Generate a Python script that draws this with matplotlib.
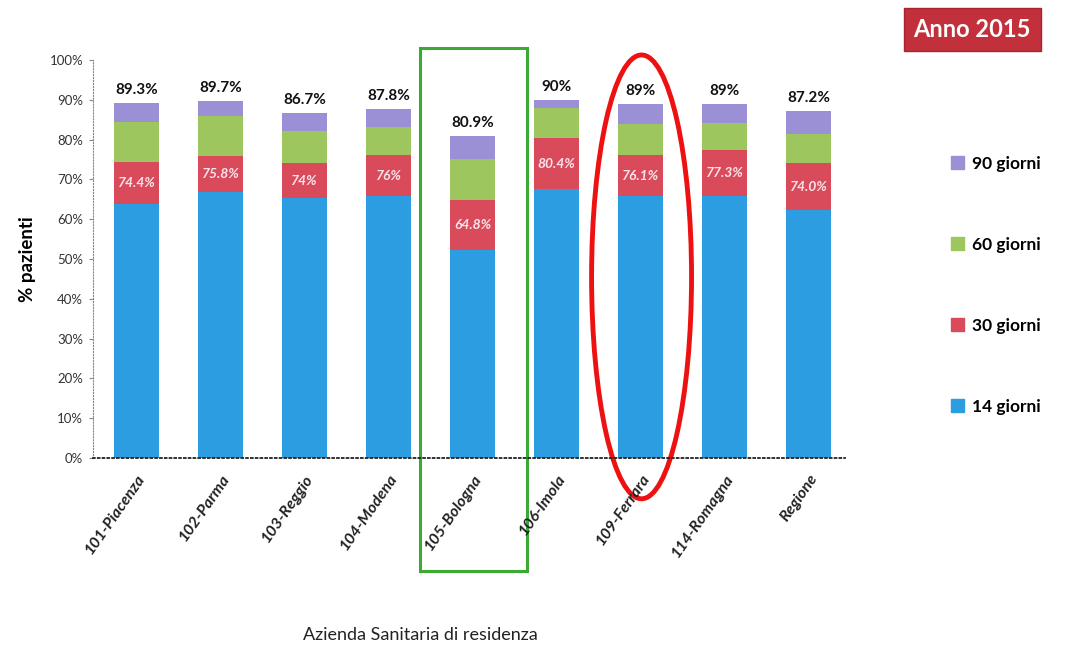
import numpy as np
import matplotlib
matplotlib.use("Agg")
import matplotlib.pyplot as plt
from matplotlib.patches import Rectangle, Ellipse, Patch

plt.rcParams['font.family'] = ['Lato', 'DejaVu Sans']

aziende = ['101-Piacenza', '102-Parma', '103-Reggio', '104-Modena', '105-Bologna',
           '106-Imola', '109-Ferrara', '114-Romagna', 'Regione']

# cumulative share of patients reached by each deadline (%)
g14 = [63.8, 66.7, 65.4, 65.7, 52.3, 67.5, 65.7, 65.7, 62.3]
g30 = [74.4, 75.8, 74.0, 76.0, 64.8, 80.4, 76.1, 77.3, 74.0]
g60 = [84.5, 86.0, 82.1, 83.1, 75.1, 87.9, 83.9, 84.1, 81.3]
g90 = [89.3, 89.7, 86.7, 87.8, 80.9, 90.0, 89.0, 89.0, 87.2]

lab30 = ['74.4%', '75.8%', '74%', '76%', '64.8%', '80.4%', '76.1%', '77.3%', '74.0%']
lab90 = ['89.3%', '89.7%', '86.7%', '87.8%', '80.9%', '90%', '89%', '89%', '87.2%']

c14, c30, c60, c90 = '#2b9de0', '#d94a5b', '#9dc65e', '#9b8fd6'

fig = plt.figure(figsize=(10.65, 6.51), dpi=100)
ax = fig.add_axes([0.0873, 0.2965, 0.706, 0.6114])

x = np.arange(len(aziende))
w = 0.54
a14 = np.array(g14)
a30 = np.array(g30)
a60 = np.array(g60)
a90 = np.array(g90)
ax.bar(x, a14, w, color=c14)
ax.bar(x, a30 - a14, w, bottom=a14, color=c30)
ax.bar(x, a60 - a30, w, bottom=a30, color=c60)
ax.bar(x, a90 - a60, w, bottom=a60, color=c90)

for i in range(len(x)):
    ax.text(x[i], (a14[i] + a30[i]) / 2, lab30[i], ha='center', va='center',
            color='#fbe3ea', fontsize=10, fontweight='bold', fontstyle='italic')
    ax.text(x[i], a90[i] + 1.5, lab90[i], ha='center', va='bottom',
            color='#111111', fontsize=11, fontweight='bold')

ax.set_xlim(-0.52, 8.43)
ax.set_ylim(0, 100)
ax.set_yticks(np.arange(0, 101, 10))
ax.set_yticklabels([f'{v}%' for v in range(0, 101, 10)], fontsize=9.5, color='#333333')
ax.set_xticks(x)
ax.set_xticklabels(aziende, rotation=55, ha='right', rotation_mode='anchor',
                   fontsize=11.5, fontweight='bold', fontstyle='italic', color='#222222')
ax.tick_params(axis='x', length=0, pad=10)
ax.tick_params(axis='y', length=3, color='#888888', pad=4)

for s in ['top', 'right']:
    ax.spines[s].set_visible(False)
ax.spines['left'].set_linestyle(':')
ax.spines['left'].set_color('#888888')
ax.spines['bottom'].set_linestyle(':')
ax.spines['bottom'].set_color('#222222')
ax.spines['bottom'].set_linewidth(1.3)

ax.set_ylabel('% pazienti', fontsize=13.5, fontweight='bold', labelpad=10)
fig.text(0.395, 0.024, 'Azienda Sanitaria di residenza', ha='center', va='center',
         fontsize=13, color='#222222')

# highlight boxes
ax.add_patch(Rectangle((3.37, -28.5), 1.28, 131.5, fill=False,
                       edgecolor='#3aaa35', linewidth=2.2, clip_on=False))
ax.add_patch(Ellipse((6.01, 45.5), 1.19, 111.5, fill=False,
                     edgecolor='#ee1111', linewidth=3.5, clip_on=False))

handles = [Patch(color=c90), Patch(color=c60), Patch(color=c30), Patch(color=c14)]
fig.legend(handles, ['90 giorni', '60 giorni', '30 giorni', '14 giorni'],
           loc='upper left', bbox_to_anchor=(0.878, 0.785), frameon=False,
           prop={'size': 12.5, 'weight': 'bold'}, handlelength=0.75, handleheight=0.75,
           handletextpad=0.5, labelspacing=3.75)

fig.text(0.913, 0.955, 'Anno 2015', ha='center', va='center', fontsize=17,
         fontweight='bold', color='white',
         bbox=dict(boxstyle='square,pad=0.42', facecolor='#c2303c', edgecolor='#a82530'))

fig.savefig('out.png', dpi=100)
